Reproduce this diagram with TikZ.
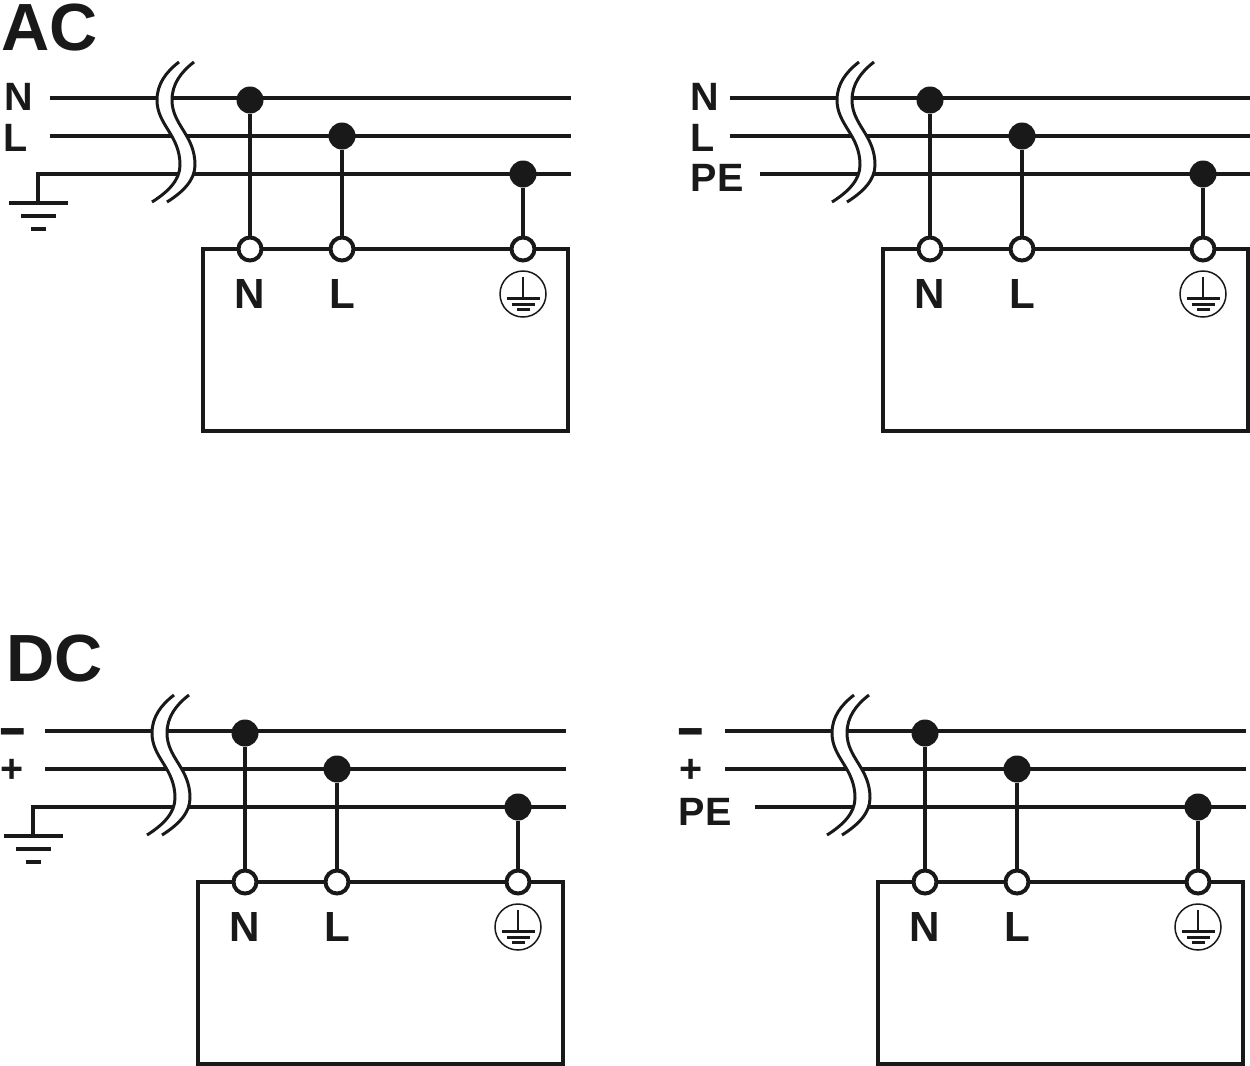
\documentclass[tikz,border=0pt]{standalone}
\usepackage{fontspec}
\setmainfont{Liberation Sans}

\tikzset{wire/.style={line width=4.5*0.567pt,draw=black!90,line join=miter},
         thinwire/.style={line width=3*0.567pt,draw=black!90},
         tag/.style={font=\fontsize{22.5}{22.5}\selectfont\bfseries,text=black!90,inner sep=0pt},
         pin/.style={font=\fontsize{24}{24}\selectfont\bfseries,text=black!90,inner sep=0pt},
         headline/.style={font=\fontsize{38}{38}\selectfont\bfseries,text=black!90,inner sep=0pt},
         dot/.style={circle,fill=black!90,draw=none,minimum size=27*0.02cm,inner sep=0pt},
         terminal/.style={circle,fill=white,draw=black!90,line width=4*0.567pt,minimum size=23*0.02cm,inner sep=0pt},
         earthring/.style={circle,draw=black!90,line width=1.5*0.567pt,minimum size=46*0.02cm,inner sep=0pt}}

% one panel: #1 prefix, #2 shift
\newcommand{\panel}[2]{
 \begin{scope}[shift={(#2)}]
  % lines
  \coordinate (#1a) at (50,98);
  \coordinate (#1b) at (50,136);
  \coordinate (#1ae) at (571,98);
  \coordinate (#1be) at (571,136);
  \coordinate (#1ce) at (571,174);
  \draw[wire] (#1a) -- (#1ae);
  \draw[wire] (#1b) -- (#1be);
  % unit
  \coordinate (#1tl) at (203,249);
  \coordinate (#1br) at (568,431);
  \draw[wire] (#1tl) rectangle (#1br);
  \node[pin] (#1u1) at (250,294) {N};
  \node[pin] (#1u2) at (342,294) {L};
  \node[earthring] (#1ring) at (523,294) {};
  \coordinate (#1stem) at (523,277);
  \coordinate (#1foot) at (523,298);
  \draw[line width=1.8*0.567pt,draw=black!90] (#1stem) -- (#1foot);
  \draw[thinwire] (507,298) -- (540,298);
  \draw[thinwire] (512,304) -- (535,304);
  \draw[thinwire] (517,309) -- (530,309);
 \end{scope}}

% the contacts, after the third line
\newcommand{\contacts}[2]{
 \begin{scope}[shift={(#2)}]
  \node[dot] (#1d1) at (250,100) {};
  \node[dot] (#1d2) at (342,136) {};
  \node[dot] (#1d3) at (523,174) {};
  \node[terminal] (#1t1) at (250,249) {};
  \node[terminal] (#1t2) at (342,249) {};
  \node[terminal] (#1t3) at (523,249) {};
  \foreach \i in {1,2,3}
    \draw[wire] (#1d\i) -- (#1t\i);
 \end{scope}}

% the wavy gap
\newcommand{\gap}[1]{
 \begin{scope}[shift={(#1)}]
  \fill[white] (179,62) .. controls (166,72) and (157,84) .. (157,100)
     .. controls (157,125) and (180,135) .. (180,165)
     .. controls (180,180) and (168,192) .. (152,202)
     -- (167,202) .. controls (183,192) and (195,180) .. (195,165)
     .. controls (195,135) and (172,125) .. (172,100)
     .. controls (172,84) and (181,72) .. (194,62) -- cycle;
  \draw[line width=3*0.567pt,draw=black!90] (179,62) .. controls (166,72) and (157,84) .. (157,100)
     .. controls (157,125) and (180,135) .. (180,165)
     .. controls (180,180) and (168,192) .. (152,202);
  \draw[line width=3*0.567pt,draw=black!90] (194,62) .. controls (181,72) and (172,84) .. (172,100)
     .. controls (172,125) and (195,135) .. (195,165)
     .. controls (195,180) and (183,192) .. (167,202);
 \end{scope}}

% third line with earth symbol
\newcommand{\earthed}[2]{
 \begin{scope}[shift={(#2)}]
  \coordinate (#1c) at (38,174);
  \coordinate (#1g) at (38,203);
  \draw[wire] (#1ce) -- (#1c) -- (#1g);
  \draw[wire] (9,203) -- (68,203);
  \draw[wire] (21,216) -- (56,216);
  \draw[wire] (31,229) -- (46,229);
 \end{scope}}

% third line, free end
\newcommand{\protective}[2]{
 \begin{scope}[shift={(#2)}]
  \coordinate (#1c) at (80,174);
  \draw[wire] (#1c) -- (#1ce);
 \end{scope}}

\newcommand{\minusmark}{\raisebox{-11.3pt}[2pt][2pt]{\scalebox{1.15}[1.5]{−}}}

\begin{document}
\begin{tikzpicture}[x=0.02cm,y=-0.02cm]
 \useasboundingbox (0,0) rectangle (1250,1065);
 \node[headline] (ac) at (50,28) {AC};
 \node[headline] (dc) at (55,659) {DC};

 \panel{p}{0,0}
 \earthed{p}{0,0}
 \gap{0,0}
 \contacts{p}{0,0}
 \node[tag] (pna) at (19,97) {N};
 \node[tag] (pnb) at (16,138) {L};

 \panel{q}{680,0}
 \protective{q}{680,0}
 \gap{680,0}
 \contacts{q}{680,0}
 \node[tag] (qna) at (705,97) {N};
 \node[tag] (qnb) at (703,138) {L};
 \node[tag] (qpe) at (717,178) {PE};

 \panel{r}{-5,633}
 \earthed{r}{-5,633}
 \gap{-5,633}
 \contacts{r}{-5,633}
 \node[tag] (rna) at (12.5,732) {\minusmark};
 \node[tag] (rnb) at (12,771) {+};

 \panel{s}{675,633}
 \protective{s}{675,633}
 \gap{675,633}
 \contacts{s}{675,633}
 \node[tag] (sna) at (691,732) {\minusmark};
 \node[tag] (snb) at (691,771) {+};
 \node[tag] (spe) at (705,812) {PE};
\end{tikzpicture}
\end{document}
